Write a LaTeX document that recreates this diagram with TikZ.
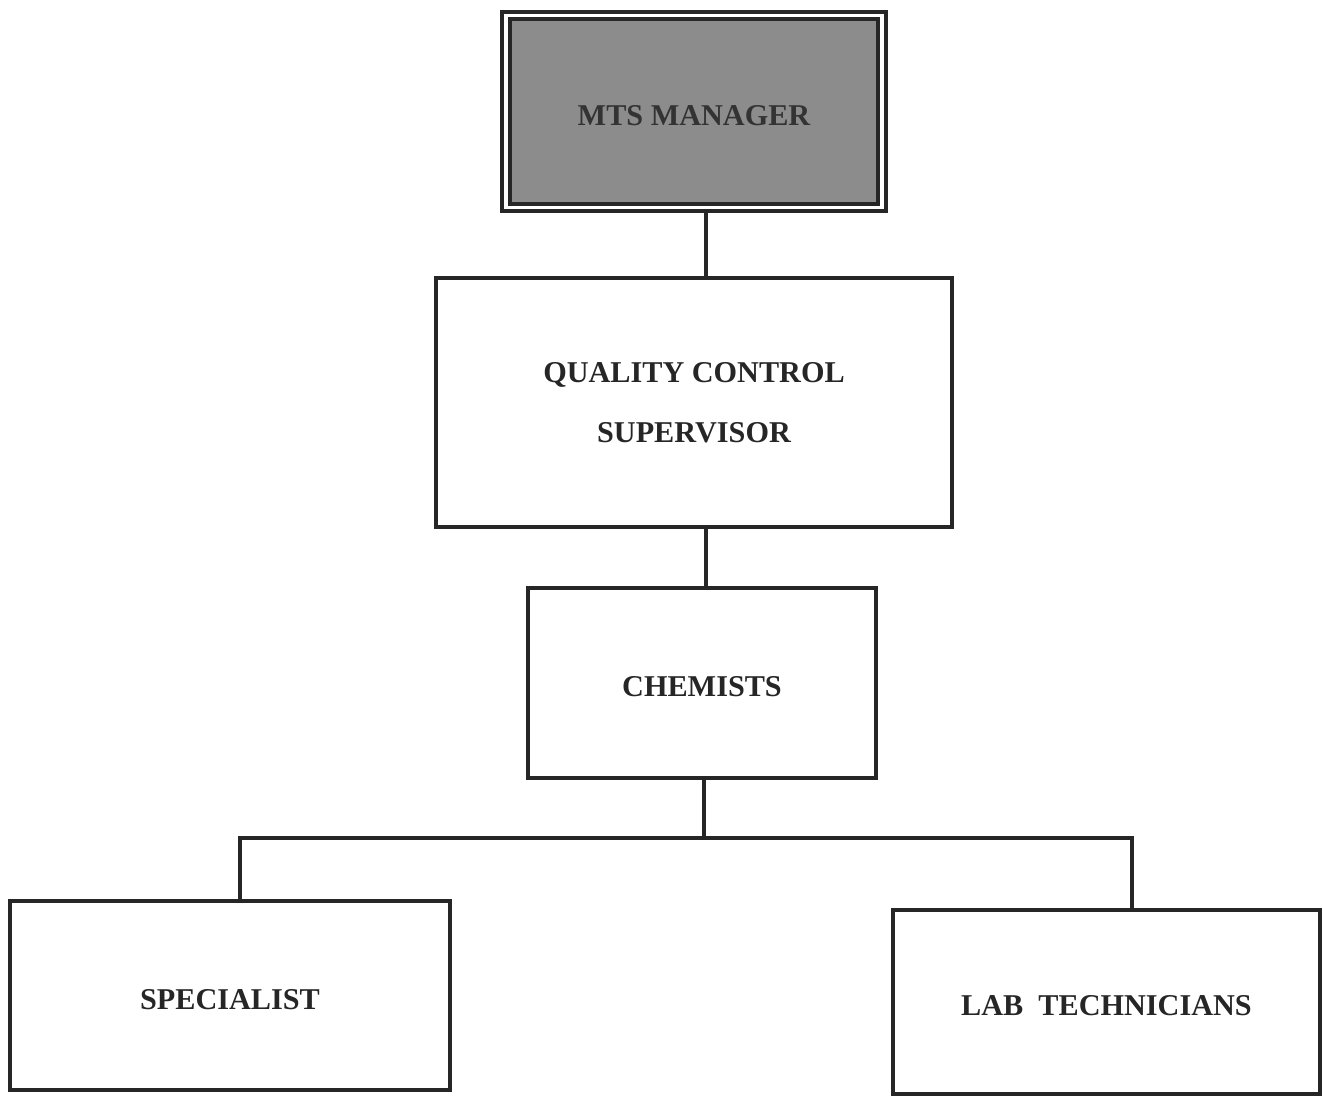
\documentclass[tikz,border=0pt]{standalone}
\usepackage{fontspec}
\setmainfont{Liberation Serif}
\begin{document}
\begin{tikzpicture}[x=1cm,y=1cm,
  box/.style={draw=black!85, line width=0.9pt, rectangle, inner sep=0pt, align=center,
    font=\fontsize{8.6}{17}\selectfont\bfseries, text=black!85},
  oneline/.style={text height=7.8pt, text depth=0pt},
  conn/.style={draw=black!85, line width=0.9pt}]
\useasboundingbox (0,0) rectangle (13.23,-10.96);
% top box with double border
\node[box, minimum width=3.84cm, minimum height=1.99cm] (mtsout) at (6.94,-1.115) {};
\node[box, oneline, fill=black!45, minimum width=3.68cm, minimum height=1.85cm, text=black!80] (mts) at (6.94,-1.115) {MTS MANAGER};
\node[box, minimum width=5.16cm, minimum height=2.49cm] (qc) at (6.94,-4.025) {QUALITY CONTROL\\SUPERVISOR};
\node[box, oneline, minimum width=3.48cm, minimum height=1.90cm] (chem) at (7.02,-6.83) {CHEMISTS};
\node[box, oneline, minimum width=4.40cm, minimum height=1.89cm] (spec) at (2.30,-9.955) {SPECIALIST};
\node[box, oneline, minimum width=4.27cm, minimum height=1.84cm] (lab) at (11.065,-10.02) {LAB\ \ TECHNICIANS};
\coordinate (x1) at (7.06,0);
\coordinate (bar) at (7.04,-8.38);
\coordinate (barL) at (2.40,-8.38);
\coordinate (barR) at (11.32,-8.38);
\draw[conn] (mtsout.south -| x1) -- (qc.north -| x1);
\draw[conn] (qc.south -| x1) -- (chem.north -| x1);
\draw[conn] (chem.south -| bar) -- (bar);
\draw[conn] (spec.north -| barL) -- (barL) -- (barR) -- (lab.north -| barR);
\end{tikzpicture}
\end{document}
